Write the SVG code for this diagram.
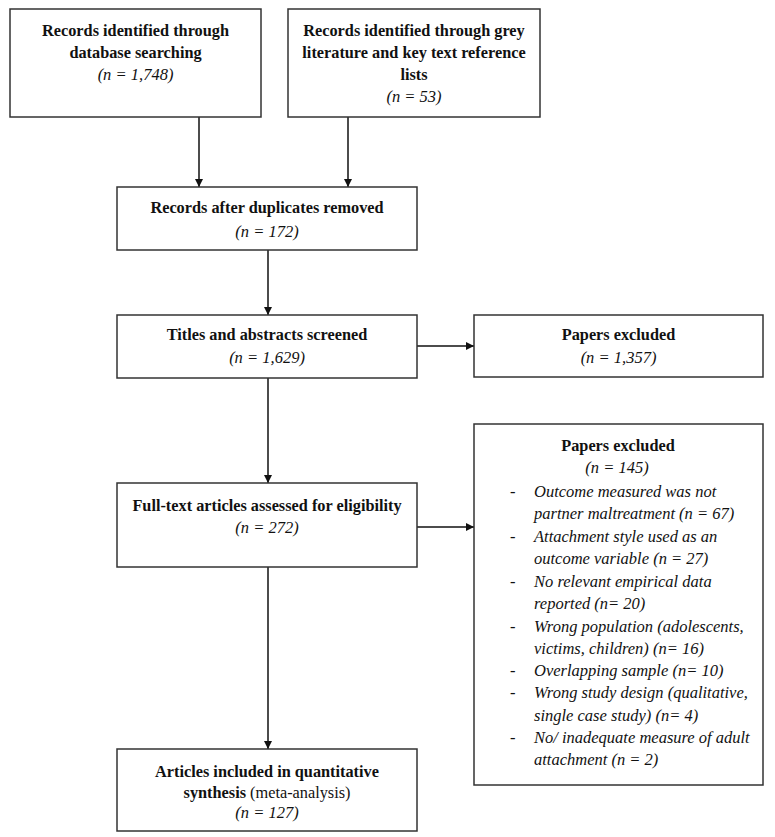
<svg xmlns="http://www.w3.org/2000/svg" width="775" height="837" viewBox="0 0 775 837">
<defs>
<marker id="ah" viewBox="0 0 10 10" refX="10" refY="5" markerWidth="8" markerHeight="8" markerUnits="userSpaceOnUse" orient="auto">
<path d="M0,0 L10,5 L0,10 Z" fill="#111"/>
</marker>
<style>
.box{fill:#fff;stroke:#333;stroke-width:1.5}
.b{font-family:"Liberation Serif","Times New Roman",serif;font-weight:bold;font-size:16.3px;fill:#111;text-anchor:middle}
.i{font-family:"Liberation Serif","Times New Roman",serif;font-style:italic;font-size:16.5px;fill:#111;text-anchor:middle}
.li{font-family:"Liberation Serif","Times New Roman",serif;font-style:italic;font-size:16.5px;fill:#111}
.r{font-weight:normal}
.c{stroke:#111;stroke-width:1.5;fill:none;marker-end:url(#ah)}
</style>
</defs>
<rect width="775" height="837" fill="#fff"/>
<g id="connectors">
<line class="c" x1="199" y1="117" x2="199" y2="187"/>
<line class="c" x1="348" y1="117" x2="348" y2="187"/>
<line class="c" x1="268" y1="250" x2="268" y2="315"/>
<line class="c" x1="417" y1="346" x2="474" y2="346"/>
<line class="c" x1="268" y1="378" x2="268" y2="483"/>
<line class="c" x1="417" y1="527" x2="474" y2="527"/>
<line class="c" x1="268" y1="567" x2="268" y2="749"/>
</g>
<g id="db">
<rect class="box" x="10" y="9" width="251" height="108"/>
<text class="b" x="135.5" y="36">Records identified through</text>
<text class="b" x="135.5" y="58">database searching</text>
<text class="i" x="135.5" y="80">(n = 1,748)</text>
</g>
<g id="grey">
<rect class="box" x="288" y="9" width="252" height="108"/>
<text class="b" x="414" y="36">Records identified through grey</text>
<text class="b" x="414" y="58">literature and key text reference</text>
<text class="b" x="414" y="80">lists</text>
<text class="i" x="414" y="102">(n = 53)</text>
</g>
<g id="dup">
<rect class="box" x="117" y="187" width="300" height="63"/>
<text class="b" x="267" y="213">Records after duplicates removed</text>
<text class="i" x="267" y="237">(n = 172)</text>
</g>
<g id="screen">
<rect class="box" x="117" y="315" width="300" height="63"/>
<text class="b" x="267" y="340">Titles and abstracts screened</text>
<text class="i" x="267" y="363">(n = 1,629)</text>
</g>
<g id="excl1">
<rect class="box" x="474" y="315" width="289" height="62"/>
<text class="b" x="618.5" y="340">Papers excluded</text>
<text class="i" x="618.5" y="363">(n = 1,357)</text>
</g>
<g id="fulltext">
<rect class="box" x="117" y="483" width="300" height="84"/>
<text class="b" x="267" y="511">Full-text articles assessed for eligibility</text>
<text class="i" x="267" y="533">(n = 272)</text>
</g>
<g id="excl2">
<rect class="box" x="474" y="424" width="289" height="361"/>
<text class="b" x="618" y="451">Papers excluded</text>
<text class="i" x="617" y="473">(n = 145)</text>
<g class="li">
<text x="510" y="497">-</text><text x="534" y="497">Outcome measured was not</text>
<text x="534" y="519">partner maltreatment (n = 67)</text>
<text x="510" y="542">-</text><text x="534" y="542">Attachment style used as an</text>
<text x="534" y="564">outcome variable (n = 27)</text>
<text x="510" y="587">-</text><text x="534" y="587">No relevant empirical data</text>
<text x="534" y="609">reported (n= 20)</text>
<text x="510" y="632">-</text><text x="534" y="632">Wrong population (adolescents,</text>
<text x="534" y="654">victims, children) (n= 16)</text>
<text x="510" y="676">-</text><text x="534" y="676">Overlapping sample (n= 10)</text>
<text x="510" y="698">-</text><text x="534" y="698">Wrong study design (qualitative,</text>
<text x="534" y="721">single case study) (n= 4)</text>
<text x="510" y="743">-</text><text x="534" y="743">No/ inadequate measure of adult</text>
<text x="534" y="765">attachment (n = 2)</text>
</g>
</g>
<g id="included">
<rect class="box" x="117" y="749" width="300" height="82"/>
<text class="b" x="267" y="777">Articles included in quantitative</text>
<text class="b" x="267" y="798">synthesis <tspan class="r">(meta-analysis)</tspan></text>
<text class="i" x="267" y="818">(n = 127)</text>
</g>
</svg>
